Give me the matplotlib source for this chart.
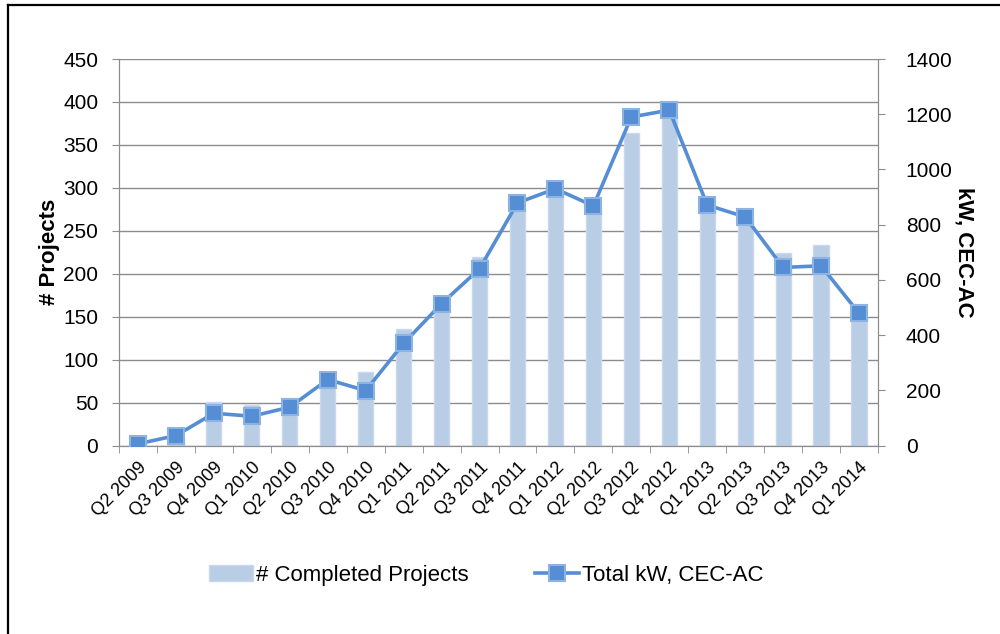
import matplotlib
matplotlib.use('Agg')
import matplotlib.pyplot as plt
from matplotlib.lines import Line2D
import numpy as np

plt.rcParams['font.family'] = ['Liberation Sans', 'DejaVu Sans']

# data
quarters = ['Q2 2009', 'Q3 2009', 'Q4 2009', 'Q1 2010', 'Q2 2010', 'Q3 2010',
            'Q4 2010', 'Q1 2011', 'Q2 2011', 'Q3 2011', 'Q4 2011', 'Q1 2012',
            'Q2 2012', 'Q3 2012', 'Q4 2012', 'Q1 2013', 'Q2 2013', 'Q3 2013',
            'Q4 2013', 'Q1 2014']
projects = [3, 9, 51, 47, 42, 73, 86, 136, 166, 220, 277, 290, 272, 364, 386,
            275, 263, 224, 233, 150]
total_kw = [6, 36, 117, 106, 139, 239, 199, 370, 514, 640, 879, 930, 868,
            1190, 1215, 871, 828, 645, 651, 479]

bar_col = '#B9CDE5'
line_col = '#558ED5'
grid_col = '#8C8C8C'

fig = plt.figure(figsize=(10, 6.34), dpi=100)
ax = fig.add_axes([0.119, 0.2973, 0.759, 0.6096])
ax2 = ax.twinx()

x = np.arange(len(quarters))
bars = ax.bar(x, projects, width=0.4, color=bar_col, edgecolor='#C9D8EC',
              linewidth=1, label='# Completed Projects', zorder=2)
ln, = ax2.plot(x, total_kw, color=line_col, lw=2.6, marker='s', ms=12,
               mfc=line_col, mec='#8DB3E2', mew=1.5,
               label='Total kW, CEC-AC', zorder=3)

ax.set_xlim(-0.5, len(quarters) - 0.5)
ax.set_ylim(0, 450)
ax.set_yticks(np.arange(0, 451, 50))
ax2.set_ylim(0, 1400)
ax2.set_yticks(np.arange(0, 1401, 200))

ax.yaxis.grid(True, color=grid_col, lw=1)
ax.set_axisbelow(True)

for a in (ax, ax2):
    a.spines['top'].set_visible(False)
    for s in ('left', 'right', 'bottom'):
        a.spines[s].set_color(grid_col)

ax.set_xticks(x)
ax.set_xticklabels(quarters, rotation=45, ha='right', rotation_mode='anchor',
                   fontsize=13)
ax.set_xticks(np.arange(-0.5, len(quarters), 1), minor=True)
ax.tick_params(axis='x', which='major', length=0, pad=10)
ax.tick_params(axis='x', which='minor', length=5, color=grid_col)
ax.tick_params(axis='y', length=5, color=grid_col, labelsize=15, pad=10)
ax2.tick_params(axis='y', length=5, color=grid_col, labelsize=15, pad=15)

ax.set_ylabel('# Projects', fontsize=16, fontweight='bold', labelpad=2)
ax2.set_ylabel('kW, CEC-AC', fontsize=16, fontweight='bold', rotation=270,
               labelpad=16)

fig.legend([bars, ln], ['# Completed Projects', 'Total kW, CEC-AC'],
           loc='center', bbox_to_anchor=(0.486, 0.093), ncol=2, frameon=False,
           fontsize=16, handlelength=2.0, handletextpad=0.1, columnspacing=3.0)

# frame lines of the slide
fig.add_artist(Line2D([0.008, 1.0], [1 - 4.5 / 634, 1 - 4.5 / 634],
                      color='black', lw=1.6))
fig.add_artist(Line2D([0.008, 0.008], [0, 1 - 4.5 / 634],
                      color='black', lw=1.6))

plt.savefig('out.png', dpi=100)
